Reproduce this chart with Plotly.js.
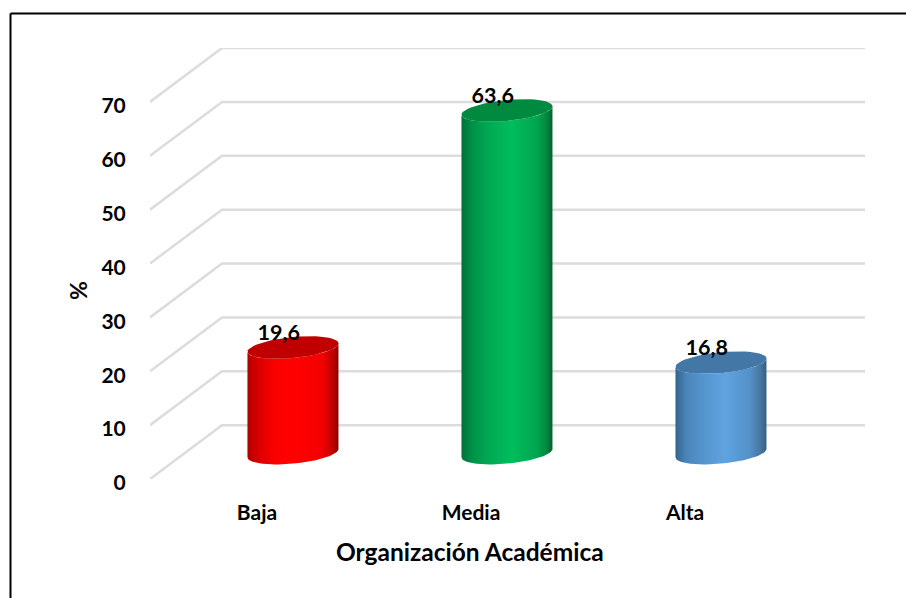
<!DOCTYPE html>
<html>
<head>
<meta charset="utf-8">
<script src="https://cdn.plot.ly/plotly-3.0.1.min.js"></script>
<style>html,body{margin:0;padding:0;background:#fff;overflow:hidden}</style>
</head>
<body>
<div id="chart" style="width:906px;height:598px"></div>
<script>
const categories = ['Baja', 'Media', 'Alta'];
const values = [19.6, 63.6, 16.8];
const valueLabels = ['19,6', '63,6', '16,8'];
const yTicks = [0, 10, 20, 30, 40, 50, 60, 70];
const xTitle = 'Organización Académica';
const yTitle = '%';

const bodyScales = [
  [[0,'#b30000'],[0.12,'#d80000'],[0.3,'#fb0000'],[0.55,'#ff0000'],[0.82,'#f40000'],[0.93,'#c40000'],[1,'#8c0000']],
  [[0,'#00703a'],[0.12,'#009247'],[0.3,'#00a955'],[0.55,'#00bd5c'],[0.82,'#00a751'],[0.93,'#008a40'],[1,'#00622f']],
  [[0,'#35648c'],[0.12,'#4a85ba'],[0.3,'#5494cc'],[0.55,'#5fa3e0'],[0.82,'#5390c8'],[0.93,'#47789f'],[1,'#355f84']]
];
const topColors = ['#c00000', '#008a40', '#4377a5'];

// geometry of the pseudo-3D scene, in axis units
const depthX = 0.3364, depthY = 10;
const xLeft = -0.5, xRight = 2.841;
const barShift = 0.168, halfW = 0.2126, baseY = 4.8;
const ryUnits = 1.95, tiltUnits = 0.78;
const labelDx = -0.066, labelDy = 2.4;

function ellipse(cx, cy, from, to) {
  const xs = [], ys = [];
  for (let k = 0; k <= 48; k++) {
    const t = from + (to - from) * k / 48;
    const c = Math.cos(t), s = Math.sin(t);
    xs.push(cx + halfW * c);
    ys.push(cy + ryUnits * s + tiltUnits * c);
  }
  return [xs, ys];
}

const traces = [];
yTicks.forEach(v => {
  traces.push({x:[xLeft, xLeft + depthX, xRight], y:[v, v + depthY, v + depthY], mode:'lines',
    line:{color:'#dcdcdc', width:2.5}, hoverinfo:'skip', showlegend:false});
});
values.forEach((v, i) => {
  const cx = i + barShift, topY = baseY + v;
  const bottom = ellipse(cx, baseY, Math.PI, 2 * Math.PI);
  const topFront = ellipse(cx, topY, 2 * Math.PI, Math.PI);
  traces.push({x:bottom[0].concat(topFront[0]), y:bottom[1].concat(topFront[1]), mode:'lines',
    line:{width:0}, fill:'toself', hoverinfo:'skip', showlegend:false,
    fillgradient:{type:'horizontal', colorscale:bodyScales[i]}});
  const whole = ellipse(cx, topY, 0, 2 * Math.PI);
  traces.push({x:whole[0], y:whole[1], mode:'lines', line:{width:0}, fill:'toself',
    fillcolor:topColors[i], hoverinfo:'skip', showlegend:false});
});
traces.push({x:values.map((v, i) => i + barShift + labelDx), y:values.map(v => baseY + v + labelDy),
  mode:'text', text:valueLabels, textposition:'middle center', cliponaxis:false,
  textfont:{family:'Lato', size:21.5, color:'#000', weight:700}, hoverinfo:'skip', showlegend:false});

const font = {family:'Lato', size:21, color:'#000', weight:700};
const layout = {
  width:906, height:598, showlegend:false, paper_bgcolor:'#fff', plot_bgcolor:'#fff',
  margin:{l:150, r:41, t:48, b:119, pad:0},
  xaxis:{range:[xLeft, xRight], tickvals:categories.map((c, i) => i), ticktext:categories,
    showgrid:false, zeroline:false, showline:false, ticks:'outside', ticklen:15,
    tickcolor:'rgba(0,0,0,0)', tickfont:font},
  yaxis:{range:[0, 80], tickvals:yTicks, ticktext:yTicks.map(String), ticklabelshift:4,
    showgrid:false, zeroline:false, showline:false, ticks:'outside', ticklen:19,
    tickcolor:'rgba(0,0,0,0)', tickfont:font},
  annotations:[
    {xref:'paper', yref:'paper', x:(470-150)/715, y:(479-551)/431, xanchor:'center', yanchor:'middle',
      text:xTitle, showarrow:false, font:{family:'Lato', size:24.5, color:'#000', weight:700}},
    {xref:'paper', yref:'paper', x:(78-150)/715, y:(479-291)/431, xanchor:'center', yanchor:'middle',
      text:yTitle, showarrow:false, textangle:-90, font:{family:'Lato', size:23, color:'#000', weight:700}}
  ],
  shapes:[
    {type:'line', xref:'paper', yref:'paper', x0:(10.5-150)/715, x1:(10.5-150)/715, y0:(479-598)/431, y1:(479-13.5)/431, line:{color:'#000', width:2}},
    {type:'line', xref:'paper', yref:'paper', x0:(10.5-150)/715, x1:(906-150)/715, y0:(479-13.5)/431, y1:(479-13.5)/431, line:{color:'#000', width:2}}
  ]
};
Plotly.newPlot('chart', traces, layout, {displayModeBar:false, staticPlot:true});
</script>
</body>
</html>
